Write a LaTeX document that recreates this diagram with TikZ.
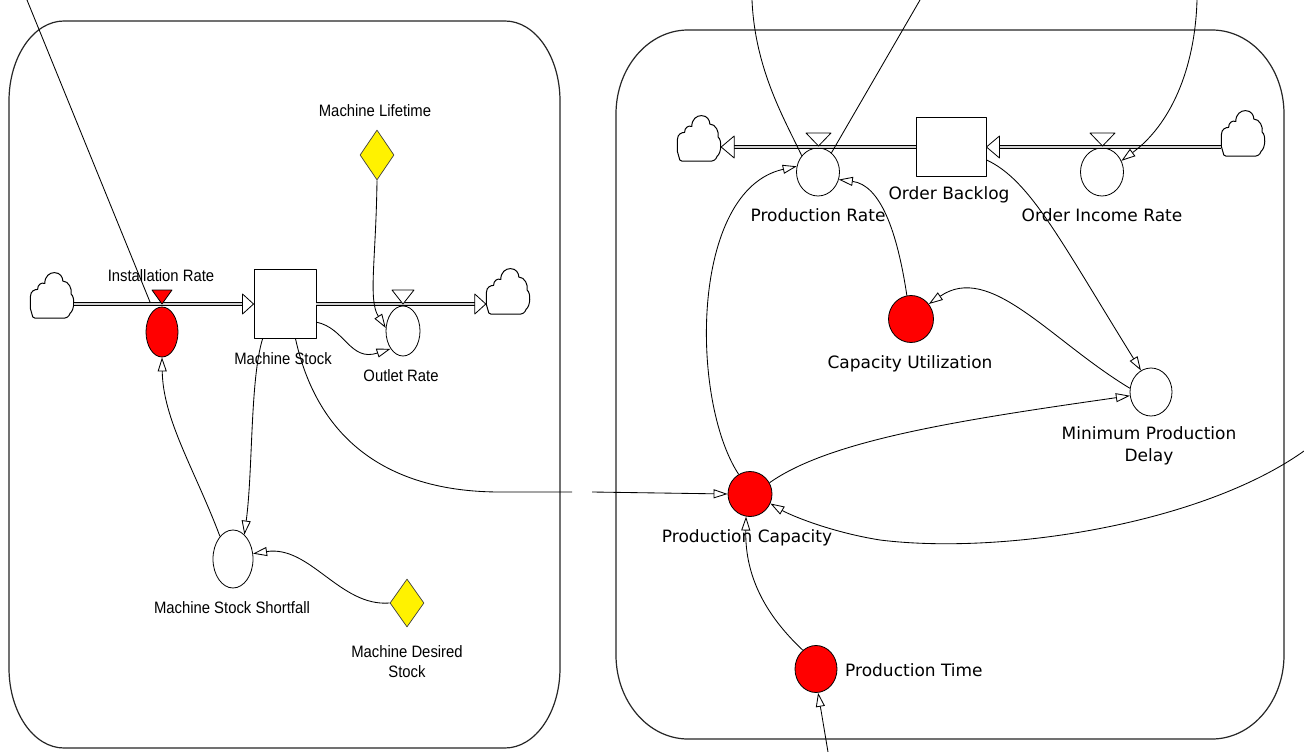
\documentclass[tikz,border=0pt]{standalone}
\usepackage{fontspec}
\setmainfont{DejaVu Sans}
\newfontfamily\lft[FakeStretch=0.9]{Liberation Sans}
\usetikzlibrary{arrows.meta,shapes.geometric}
\begin{document}
\begin{tikzpicture}[x=1pt,y=-1pt,line join=round,
 lnk/.style={line width=0.85pt,-{Triangle[length=14pt,width=9pt,fill=white]}},
 plain/.style={line width=0.85pt},
 aux/.style={ellipse,draw,line width=0.8pt,fill=white,inner sep=0},
 redaux/.style={aux,fill=red},
 const/.style={diamond,draw=black!75,fill=yellow,line width=0.7pt,inner sep=0},
 stockbox/.style={rectangle,draw,fill=white,line width=0.9pt,inner sep=0},
 cloudnode/.style={inner sep=0,minimum width=44,minimum height=44},
 cloudline/.style={line width=1pt,fill=white},
 pipe/.style={line width=0.9pt,double=gray!35,double distance=2.6pt},
 tri/.style={line width=0.8pt,fill=white},
 ltxt/.style={font=\lft\fontsize{16.5}{20}\selectfont,align=center,inner sep=0},
 rtxt/.style={font=\fontsize{17}{22}\selectfont,align=center,inner sep=0},
 panel/.style={line width=1.2pt,draw=black!85}]
\fill[white] (0,0) rectangle (1304,752);
\useasboundingbox (0,0) rectangle (1304,752);

% panels
\draw[panel] (64,21) -- (505,21) .. controls (535.4,21) and (560,56.8) .. (560,101) -- (560,668) .. controls (560,712.2) and (535.4,748) .. (505,748) -- (64,748) .. controls (33.6,748) and (9,712.2) .. (9,668) -- (9,101) .. controls (9,56.8) and (33.6,21) .. (64,21) -- cycle;
\draw[panel] (688,30) -- (1212,30) .. controls (1251.7,30) and (1284,67.6) .. (1284,114) -- (1284,655) .. controls (1284,701.4) and (1251.7,739) .. (1212,739) -- (688,739) .. controls (648.3,739) and (616,701.4) .. (616,655) -- (616,114) .. controls (616,67.6) and (648.3,30) .. (688,30) -- cycle;

% clouds
\foreach \n/\p in {cl1/{(52,299)},cl2/{(508,295)},cl3/{(699,142)},cl4/{(1243,137)}}{
  \node[cloudnode] (\n) at \p {};
  \draw[cloudline,shift={(\n.center)},scale=1.2] (-16,15) -- (-18,8) -- (-18,-2) .. controls (-18,-7) and (-14,-8) .. (-12,-8) .. controls (-12,-12) and (-9,-14) .. (-6,-13) .. controls (-6,-19) and (-2,-22) .. (2,-22) .. controls (7,-22) and (9,-18) .. (9,-15) .. controls (14,-15) and (17,-8) .. (16,-4) .. controls (19,-2) and (19,9) .. (15,12) .. controls (14,15) and (12,16) .. (9,16) -- (-14,16) -- cycle;
}

% left nodes
\node[stockbox,minimum width=62,minimum height=69] (ms) at (285,304) {};
\node[redaux,minimum width=32,minimum height=50] (ir) at (162,332) {};
\node[aux,minimum width=34,minimum height=50] (or) at (403,331) {};
\node[const,minimum width=34,minimum height=50] (ml) at (377,155) {};
\node[aux,minimum width=40,minimum height=58] (mss) at (233,559) {};
\node[const,minimum width=34,minimum height=48] (mds) at (407,603) {};

% left pipes
\coordinate (cl1out) at (cl1.east |- ms.west);
\coordinate (cl2in) at (cl2.west |- ms.east);
\draw[pipe] (cl1out) -- ([xshift=-11pt]ms.west);
\draw[tri] ([xshift=-11pt,yshift=10pt]ms.west) -- (ms.west) -- ([xshift=-11pt,yshift=-10pt]ms.west) -- cycle;
\draw[pipe] (ms.east) -- ([xshift=-11pt]cl2in);
\draw[tri] ([xshift=-11pt,yshift=10pt]cl2in) -- (cl2in) -- ([xshift=-11pt,yshift=-10pt]cl2in) -- cycle;
\draw[line width=0.8pt,fill=red] (152,290) -- (172,290) -- (162,304) -- cycle;
\draw[tri] (392,290) -- (414,290) -- (403,304) -- cycle;

% left labels
\node[ltxt] (irl) at (161,276) {Installation Rate};
\node[ltxt] (msl) at (283,359) {Machine Stock};
\node[ltxt] (orl) at (401,376) {Outlet Rate};
\node[ltxt] (mll) at (375,111) {Machine Lifetime};
\node[ltxt] (mssl) at (232,608) {Machine Stock Shortfall};
\node[ltxt] (mdsl) at (407,662) {Machine Desired\\Stock};

% left links
\coordinate (ltop) at (27,0);
\coordinate (irin) at (150,302);
\draw[plain] (ltop) -- (irin);
\draw[lnk] (ml.south) .. controls (376,260) and (368,300) .. (or.170);
\draw[lnk] (ms.-30) .. controls (345,328) and (350,362) .. (or.235);
\draw[lnk] ([xshift=9pt]ms.south west) .. controls (250,380) and (253,470) .. (mss.65);
\draw[lnk] (mss.120) .. controls (195,470) and (163,420) .. (ir.south);
\draw[lnk] (mds.west) .. controls (340,607) and (310,545) .. (mss.15);
\coordinate (brk1) at (572,492);
\coordinate (brk2) at (592,492);
\draw[plain] ([xshift=42pt]ms.south west) .. controls (320,450) and (400,492) .. (500,492) -- (brk1);

% right nodes
\node[stockbox,minimum width=70,minimum height=59] (ob) at (951,147) {};
\node[aux,minimum width=43,minimum height=48] (pr) at (818,172) {};
\node[aux,minimum width=43,minimum height=48] (oir) at (1102,172) {};
\node[redaux,minimum width=45,minimum height=47] (cu) at (911,319) {};
\node[aux,minimum width=42,minimum height=48] (mpd) at (1151,392) {};
\node[redaux,minimum width=44,minimum height=45] (pc) at (750,494) {};
\node[redaux,minimum width=42,minimum height=47] (pt) at (816,669) {};

% right pipes
\coordinate (cl3in) at (cl3.east |- ob.west);
\coordinate (cl4out) at (cl4.west |- ob.east);
\draw[pipe] (ob.west) -- ([xshift=13pt]cl3in);
\draw[tri] ([xshift=13pt,yshift=11pt]cl3in) -- (cl3in) -- ([xshift=13pt,yshift=-11pt]cl3in) -- cycle;
\draw[pipe] (cl4out) -- ([xshift=13pt]ob.east);
\draw[tri] ([xshift=13pt,yshift=11pt]ob.east) -- (ob.east) -- ([xshift=13pt,yshift=-11pt]ob.east) -- cycle;
\draw[tri] (806,133) -- (831,133) -- (818.5,146) -- cycle;
\draw[tri] (1090,133) -- (1115,133) -- (1102.5,146) -- cycle;

% right labels
\node[rtxt] (prl) at (818,215) {Production Rate};
\node[rtxt] (obl) at (949,195) {Order Backlog};
\node[rtxt] (oirl) at (1102,215) {Order Income Rate};
\node[rtxt] (cul) at (910,364) {Capacity Utilization};
\node[rtxt] (mpdl) at (1149,446) {Minimum Production\\Delay};
\node[rtxt] (pcl) at (747,538) {Production Capacity};
\node[rtxt,anchor=west] (ptl) at (845,670) {Production Time};

% right links
\coordinate (t1) at (752,0);
\coordinate (t2) at (920,0);
\coordinate (t3) at (1197,0);
\coordinate (t4) at (1304,451);
\coordinate (t5) at (828,752);
\draw[lnk] (brk2) -- (pc.west);
\draw[plain] (t1) .. controls (755,70) and (785,120) .. (pr.135);
\draw[plain] (t2) -- (pr.55);
\draw[lnk] (t3) .. controls (1195,70) and (1170,125) .. (oir.30);
\draw[lnk] (cu.100) .. controls (897,230) and (880,185) .. (pr.-20);
\draw[lnk] (pc.120) .. controls (690,400) and (690,190) .. (pr.165);
\draw[lnk] (ob.-20) .. controls (1030,180) and (1060,240) .. (mpd.115);
\draw[lnk] (mpd.170) .. controls (1050,340) and (990,262) .. (cu.40);
\draw[lnk] (pc.30) .. controls (830,440) and (960,420) .. (mpd.190);
\draw[lnk] (t4) .. controls (1200,525) and (1000,555) .. (880,540) .. controls (830,532) and (790,515) .. (pc.-25);
\draw[lnk] (pt.125) .. controls (760,610) and (745,570) .. (pc.-100);
\draw[lnk] (t5) -- (pt.-85);
\end{tikzpicture}
\end{document}
